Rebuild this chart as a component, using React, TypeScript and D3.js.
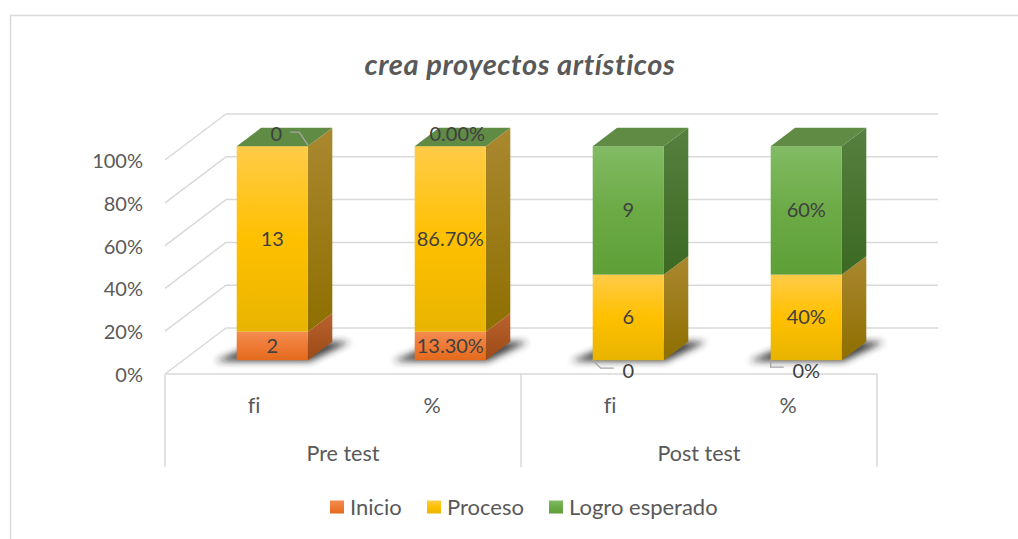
import React from "react";
import * as d3 from "d3";

const categories = ["fi", "%", "fi", "%"];
const groups = ["Pre test", "Post test"];
const seriesNames = ["Inicio", "Proceso", "Logro esperado"];
const inicio = [2, 13.3, 0, 0];
const proceso = [13, 86.7, 6, 40];
const logro = [0, 0, 9, 60];
const inicioLabels = ["2", "13.30%", "0", "0%"];
const procesoLabels = ["13", "86.70%", "6", "40%"];
const logroLabels = ["0", "0.00%", "9", "60%"];
const yTicks = [0, 0.2, 0.4, 0.6, 0.8, 1];
const yTickLabels = ["0%", "20%", "40%", "60%", "80%", "100%"];
const title = "crea proyectos artísticos";

const W = 1018;
const H = 539;
const FONT = "Lato, 'Open Sans', sans-serif";
const AXIS = "#595959";
const LBL = "#404040";
const GRID = "#d9d9d9";

// 3D frame
const DX = 61;
const DY = -46;
const D0 = 0.3;
const D1 = 0.7;

const colors: Record<string, any> = {
  Inicio: { f: ["#F58C50", "#EE7A35", "#E36A1C"], s: ["#B9622F", "#9C4A16"], t: "#C8703C" },
  Proceso: { f: ["#FFCB48", "#FFC000", "#E8B400"], s: ["#AA8830", "#8E6F00"], t: "#C9A23A" },
  "Logro esperado": { f: ["#82BB64", "#6CAA46", "#5E9F37"], s: ["#56803F", "#3C6922"], t: "#5F8B45" },
};

const seriesValues = [inicio, proceso, logro];
const seriesLabels = [inicioLabels, procesoLabels, logroLabels];

export default function App() {
  const yScale = d3.scaleLinear().domain([0, 1]).range([374, 160]);
  const xScale = d3
    .scaleBand<number>()
    .domain(d3.range(categories.length))
    .range([165, 877])
    .paddingInner(0.6)
    .paddingOuter(0.3);
  const bw = xScale.bandwidth();
  const step = xScale.step();
  const off = (t: number) => [DX * t, DY * t];

  const rows = categories.map((c, i) => {
    const r: any = { i };
    seriesNames.forEach((s, k) => (r[s] = seriesValues[k][i]));
    return r;
  });
  const stacked = d3.stack<any>().keys(seriesNames).offset(d3.stackOffsetExpand)(rows);

  const [f0x, f0y] = off(D0);
  const [bdx, bdy] = off(D1 - D0);
  const [bx, by] = off(1);

  const x0 = 165;
  const x1 = 877;
  const yFloor = yScale(0);

  const pts = (p: number[][]) => p.map((q) => q.join(",")).join(" ");

  const bars = categories.map((c, i) => {
    const xl = (xScale(i) as number) + f0x;
    const xr = xl + bw;
    const segs = stacked.map((layer, k) => {
      const [a, b] = layer[i];
      const yb = yScale(a) + f0y;
      const yt = yScale(b) + f0y;
      return { k, name: seriesNames[k], yb, yt, value: seriesValues[k][i], label: seriesLabels[k][i] };
    });
    return { i, xl, xr, segs };
  });

  const groupBounds = groups.map((g, gi) => {
    const a = x0 + gi * 2 * step;
    const b = a + 2 * step;
    return { g, a, b };
  });

  const legendX = [330, 427, 549];

  return (
    <svg
      width={W}
      height={H}
      style={{ position: "absolute", left: 0, top: 0, background: "#fff", fontVariantLigatures: "none" }}
      fontFamily={FONT}
    >
      <defs>
        {seriesNames.map((s, k) => (
          <React.Fragment key={s}>
            <linearGradient id={`f${k}`} x1="0" y1="0" x2="0" y2="1">
              <stop offset="0" stopColor={colors[s].f[0]} />
              <stop offset="0.5" stopColor={colors[s].f[1]} />
              <stop offset="1" stopColor={colors[s].f[2]} />
            </linearGradient>
            <linearGradient id={`s${k}`} x1="0" y1="0" x2="0" y2="1">
              <stop offset="0" stopColor={colors[s].s[0]} />
              <stop offset="1" stopColor={colors[s].s[1]} />
            </linearGradient>
          </React.Fragment>
        ))}
        <filter id="shadow" x="-50%" y="-50%" width="200%" height="200%">
          <feGaussianBlur stdDeviation="3.5" />
        </filter>
      </defs>
      <rect x={0} y={0} width={W} height={H} fill="#fff" />
      <rect x={10.5} y={15.5} width={1030} height={560} fill="none" stroke={GRID} strokeWidth={1.5} />

      <text
        x={520}
        y={65}
        dy="0.35em"
        textAnchor="middle"
        fontSize={29}
        letterSpacing={0.6}
        fontWeight="bold"
        fontStyle="italic"
        fill={AXIS}
      >
        {title}
      </text>

      {/* gridlines: side wall + back wall */}
      {yTicks.map((t) => {
        const y = yScale(t);
        return (
          <g key={t}>
            <line x1={x0} y1={y} x2={x0 + bx} y2={y + by} stroke={GRID} strokeWidth={1.5} />
            <line x1={x0 + bx} y1={y + by} x2={x1 + bx} y2={y + by} stroke={GRID} strokeWidth={1.5} />
          </g>
        );
      })}
      {/* floor front edge */}
      <line x1={x0} y1={yFloor} x2={x1} y2={yFloor} stroke={GRID} strokeWidth={1.5} />

      {/* y labels */}
      {yTicks.map((t, k) => (
        <text key={t} x={143} y={yScale(t) + 1} dy="0.35em" textAnchor="end" fontSize={20} fill={AXIS}>
          {yTickLabels[k]}
        </text>
      ))}

      {/* category box */}
      {[x0, ...groupBounds.map((g) => g.b)].map((x, k) => (
        <line key={k} x1={x} y1={yFloor} x2={x} y2={467} stroke={GRID} strokeWidth={1.5} />
      ))}
      {categories.map((c, i) => (
        <text
          key={i}
          x={(xScale(i) as number) + bw / 2}
          y={405}
          dy="0.35em"
          textAnchor="middle"
          fontSize={21.5}
          fill={AXIS}
        >
          {c}
        </text>
      ))}
      {groupBounds.map((g) => (
        <text key={g.g} x={(g.a + g.b) / 2} y={453} dy="0.35em" textAnchor="middle" fontSize={21.5} fill={AXIS}>
          {g.g}
        </text>
      ))}

      {/* shadows */}
      {bars.map((b) => {
        const yb = yScale(0) + f0y;
        return (
          <polygon
            key={b.i}
            points={pts([
              [b.xl - 22, yb + 1],
              [b.xr + 2, yb + 1],
              [b.xr + bdx + 18, yb + bdy],
              [b.xl + bdx, yb + bdy],
            ])}
            fill="#222"
            opacity={0.85}
            filter="url(#shadow)"
          />
        );
      })}

      {/* bars */}
      {bars.map((b) => {
        const top = b.segs[b.segs.length - 1];
        return (
          <g key={b.i}>
            {b.segs
              .filter((s) => s.yb - s.yt > 0.01)
              .map((s) => (
                <g key={s.k}>
                  <polygon
                    points={pts([
                      [b.xr, s.yb],
                      [b.xr, s.yt],
                      [b.xr + bdx, s.yt + bdy],
                      [b.xr + bdx, s.yb + bdy],
                    ])}
                    fill={`url(#s${s.k})`}
                  />
                  <rect x={b.xl} y={s.yt} width={bw} height={s.yb - s.yt} fill={`url(#f${s.k})`} />
                </g>
              ))}
            <polygon
              points={pts([
                [b.xl, top.yt],
                [b.xr, top.yt],
                [b.xr + bdx, top.yt + bdy],
                [b.xl + bdx, top.yt + bdy],
              ])}
              fill={colors[top.name].t}
            />
          </g>
        );
      })}

      {/* data labels */}
      {bars.map((b) =>
        b.segs.map((s) => {
          const cx = b.xl + bw / 2;
          if (s.value !== 0) {
            return (
              <text
                key={`${b.i}-${s.k}`}
                x={cx}
                y={(s.yt + s.yb) / 2}
                dy="0.35em"
                textAnchor="middle"
                fontSize={20}
                fill={LBL}
              >
                {s.label}
              </text>
            );
          }
          const atTop = s.k === seriesNames.length - 1;
          if (atTop) {
            const short = s.label.length < 3;
            return (
              <g key={`${b.i}-${s.k}`}>
                {short && (
                  <polyline
                    points={pts([
                      [cx + 18, s.yt - 14],
                      [cx + 27, s.yt - 14],
                      [b.xr, s.yt - 1],
                    ])}
                    fill="none"
                    stroke="#a6a6a6"
                    strokeWidth={1.3}
                  />
                )}
                <text x={cx + (short ? 4 : 7)} y={s.yt - 12} dy="0.35em" textAnchor="middle" fontSize={20} fill={LBL}>
                  {s.label}
                </text>
              </g>
            );
          }
          const short = s.label.length < 2;
          return (
            <g key={`${b.i}-${s.k}`}>
              <polyline
                points={
                  short
                    ? pts([
                        [b.xl, s.yb],
                        [b.xl + 8, s.yb + 8],
                        [b.xl + 21, s.yb + 8],
                      ])
                    : pts([
                        [b.xl, s.yb],
                        [b.xl, s.yb + 7],
                        [b.xl + 13, s.yb + 7],
                      ])
                }
                fill="none"
                stroke="#a6a6a6"
                strokeWidth={1.3}
              />
              <text x={cx} y={s.yb + 11} dy="0.35em" textAnchor="middle" fontSize={20} fill={LBL}>
                {s.label}
              </text>
            </g>
          );
        })
      )}

      {/* legend */}
      {seriesNames.map((s, k) => (
        <g key={s} transform={`translate(${legendX[k]},507)`}>
          <rect x={0} y={-6.5} width={14} height={13} fill={`url(#f${k})`} />
          <text x={20} y={0} dy="0.35em" fontSize={22} fill={AXIS}>
            {s}
          </text>
        </g>
      ))}
    </svg>
  );
}
